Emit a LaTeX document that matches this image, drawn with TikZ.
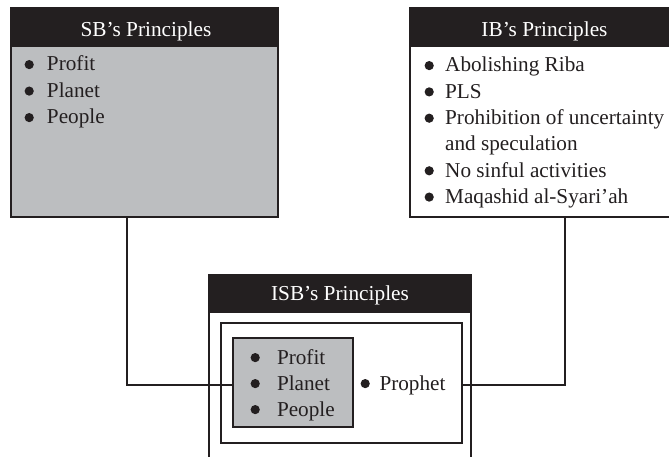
\documentclass[tikz,border=0pt]{standalone}
\usepackage{fontspec}
\setmainfont{Liberation Serif}
\definecolor{ink}{HTML}{231F20}
\definecolor{boxgray}{HTML}{BCBEC0}
\newcommand\bul[1]{\makebox[#1][l]{\tikz[baseline=-6.4pt]\fill[ink] (0pt,0pt) circle (4.6pt);}}
\begin{document}
\begin{tikzpicture}[x=1pt,y=-1pt,
  line/.style={draw=ink,line width=1.2pt},
  header/.style={fill=ink,draw=ink,line width=1.2pt},
  htext/.style={text=white,font=\fontsize{21.3}{25}\selectfont,inner sep=0pt,anchor=base},
  list/.style={text=ink,inner sep=0pt,anchor=base west,align=left}]
\useasboundingbox (0,0) rectangle (669,457);
% SB box
\fill[header] (11,8) rectangle (278,46);
\filldraw[line,fill=boxgray] (11,46) rectangle (278,217);
\node[htext] (sbh) at (146,36.5) {SB’s Principles};
\node[list] (sbl) at (24.4,71) {\fontsize{21.2}{26.5}\selectfont\begin{tabular}[t]{@{}l@{}}
\bul{22.4pt}Profit\\ \bul{22.4pt}Planet\\ \bul{22.4pt}People\end{tabular}};
\coordinate (sbs) at (127,217);
% IB box
\fill[header] (410,8) rectangle (679,46);
\filldraw[line,fill=white] (410,46) rectangle (679,217);
\node[htext] (ibh) at (544.5,36.5) {IB’s Principles};
\node[list] (ibl) at (424.4,72) {\fontsize{21.2}{26.3}\selectfont\begin{tabular}[t]{@{}l@{}}
\bul{20.6pt}Abolishing Riba\\ \bul{20.6pt}PLS\\ \bul{20.6pt}Prohibition of uncertainty\\
\hspace*{20.6pt}and speculation\\ \bul{20.6pt}No sinful activities\\ \bul{20.6pt}Maqashid al-Syari’ah\end{tabular}};
\coordinate (ibs) at (565,217);
% ISB box
\fill[header] (209,275) rectangle (471,312);
\draw[line] (209,470) -- (209,275) -- (471,275) -- (471,470);
\node[htext] (isbh) at (340,300) {ISB’s Principles};
\draw[line,fill=white] (221,323) rectangle (462,443);
\coordinate (inE) at (462,385);
\filldraw[line,fill=boxgray] (233,338) rectangle (353,427);
\coordinate (grW) at (233,385);
\node[list] (isbl) at (250.4,364) {\fontsize{21.2}{26}\selectfont\begin{tabular}[t]{@{}l@{}}
\bul{26.4pt}Profit\\ \bul{26.4pt}Planet\\ \bul{26.4pt}People\end{tabular}};
\node[list] (proph) at (360.4,390) {\fontsize{21.2}{26}\selectfont\bul{18.9pt}Prophet};
% connectors
\draw[line] (sbs) |- (grW);
\draw[line] (inE) -| (ibs);
\end{tikzpicture}
\end{document}
